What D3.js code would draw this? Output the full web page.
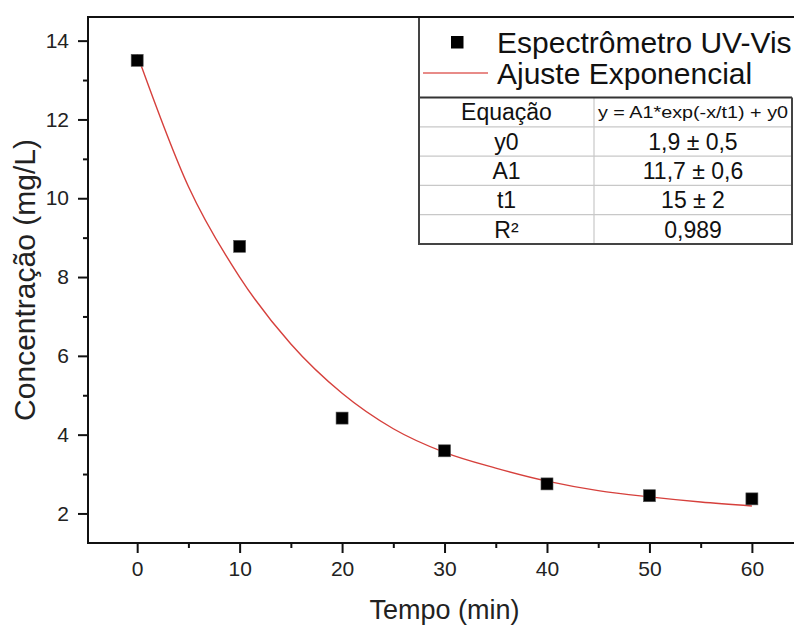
<!DOCTYPE html>
<html>
<head>
<meta charset="utf-8">
<script src="https://cdn.jsdelivr.net/npm/d3@7"></script>
<style>
  body { margin: 0; background: #fff; }
  svg { display: block; font-family: "Liberation Sans", Arial, sans-serif; }
</style>
</head>
<body>
<div id="chart"></div>
<script>
// pontos medidos
const tempo = [0, 10, 20, 30, 40, 50, 60];
const concentracao = [13.5, 8.78, 4.42, 3.59, 2.75, 2.45, 2.37];

// curva de ajuste
const ajusteTempo = [0, 5, 10, 15, 20, 25, 30, 35, 40, 45, 50, 55, 60];
const ajusteValores = [13.65, 10.3, 8.0, 6.3, 5.05, 4.15, 3.55, 3.15, 2.82, 2.58, 2.42, 2.29, 2.19];

const xTicks = [0, 10, 20, 30, 40, 50, 60];
const xMinor = [5, 15, 25, 35, 45, 55];
const yTicks = [2, 4, 6, 8, 10, 12, 14];
const yMinor = [3, 5, 7, 9, 11, 13];

const legendaNomes = ["Espectrômetro UV-Vis", "Ajuste Exponencial"];
const tabelaNomes = ["Equação", "y0", "A1", "t1", "R²"];
const tabelaValores = ["y = A1*exp(-x/t1) + y0", "1,9 ± 0,5", "11,7 ± 0,6", "15 ± 2", "0,989"];

let dimentions = {
    width: 794,
    height: 625,
    margin: { left: 88, right: -4, top: 17, bottom: 82 }
};
dimentions.boundedWidth = dimentions.width - dimentions.margin.left - dimentions.margin.right;
dimentions.boundedHeight = dimentions.height - dimentions.margin.top - dimentions.margin.bottom;

const svg = d3.select("#chart")
    .append("svg")
    .attr("width", dimentions.width)
    .attr("height", dimentions.height);

const bounds = svg.append("g")
    .attr("transform", `translate(${dimentions.margin.left},${dimentions.margin.top})`);

const xScale = d3.scaleLinear()
    .domain([-4.8, 64.5])
    .range([0, dimentions.boundedWidth]);

const yScale = d3.scaleLinear()
    .domain([1.25, 14.6])
    .range([dimentions.boundedHeight, 0]);

// eixos
bounds.append("g")
    .attr("transform", `translate(0,${dimentions.boundedHeight})`)
    .call(d3.axisBottom(xScale).tickValues(xTicks).tickSize(10).tickPadding(8).tickSizeOuter(0));
bounds.append("g")
    .attr("transform", `translate(0,${dimentions.boundedHeight})`)
    .call(d3.axisBottom(xScale).tickValues(xMinor).tickSize(5).tickFormat("").tickSizeOuter(0));

bounds.append("g")
    .call(d3.axisLeft(yScale).tickValues(yTicks).tickSize(10).tickPadding(9).tickSizeOuter(0));
bounds.append("g")
    .call(d3.axisLeft(yScale).tickValues(yMinor).tickSize(5).tickFormat("").tickSizeOuter(0));

bounds.selectAll(".domain").remove();
bounds.selectAll(".tick line").attr("stroke", "#111").attr("stroke-width", 2);
bounds.selectAll(".tick text")
    .attr("font-family", "Liberation Sans, Arial, sans-serif")
    .attr("font-size", 21)
    .attr("fill", "#222");

// moldura
bounds.append("rect")
    .attr("x", 0)
    .attr("y", 0)
    .attr("width", dimentions.boundedWidth)
    .attr("height", dimentions.boundedHeight)
    .attr("fill", "none")
    .attr("stroke", "#111")
    .attr("stroke-width", 2);

// titulos
svg.append("text")
    .attr("x", dimentions.margin.left + xScale(30))
    .attr("y", 619)
    .attr("text-anchor", "middle")
    .attr("font-size", 27)
    .attr("fill", "#222")
    .text("Tempo (min)");

svg.append("text")
    .attr("transform", `translate(35,${dimentions.margin.top + dimentions.boundedHeight / 2}) rotate(-90)`)
    .attr("text-anchor", "middle")
    .attr("font-size", 30)
    .attr("fill", "#222")
    .text("Concentração (mg/L)");

// curva de ajuste
const lineGenerator = d3.line()
    .x((d, i) => xScale(ajusteTempo[i]))
    .y(d => yScale(d))
    .curve(d3.curveMonotoneX);

bounds.append("path")
    .datum(ajusteValores)
    .attr("d", lineGenerator)
    .attr("fill", "none")
    .attr("stroke", "#d6403c")
    .attr("stroke-width", 1.4);

// pontos
const sq = 12;
bounds.selectAll(".ponto")
    .data(concentracao)
    .enter()
    .append("rect")
    .attr("class", "ponto")
    .attr("x", (d, i) => xScale(tempo[i]) - sq / 2)
    .attr("y", d => yScale(d) - sq / 2)
    .attr("width", sq)
    .attr("height", sq)
    .attr("fill", "#000")
    .attr("stroke", "#555")
    .attr("stroke-width", 0.6);

// legenda e tabela
const box = { x: 419, top: 17, right: 792, divider: 97.5, rowH: 29.3, colX: 594 };
const legend = svg.append("g");

legend.append("rect")
    .attr("x", box.x - 6)
    .attr("y", box.top)
    .attr("width", 400)
    .attr("height", box.divider + box.rowH * tabelaNomes.length - box.top + 4)
    .attr("fill", "#fff");

legend.append("rect")
    .attr("x", 451)
    .attr("y", 36)
    .attr("width", 12.5)
    .attr("height", 12.5)
    .attr("fill", "#000");
legend.append("line")
    .attr("x1", 423).attr("x2", 488)
    .attr("y1", 73).attr("y2", 73)
    .attr("stroke", "#e06560")
    .attr("stroke-width", 1.5);

legend.selectAll(".leg-text")
    .data(legendaNomes)
    .enter()
    .append("text")
    .attr("class", "leg-text")
    .attr("x", 497)
    .attr("y", (d, i) => 53 + i * 31)
    .attr("font-size", 30)
    .attr("fill", "#111")
    .text(d => d);

const rowY = i => box.divider + i * box.rowH;

// linhas internas da tabela
legend.selectAll(".row-line")
    .data(tabelaNomes.slice(1))
    .enter()
    .append("line")
    .attr("x1", box.x).attr("x2", box.right)
    .attr("y1", (d, i) => rowY(i + 1)).attr("y2", (d, i) => rowY(i + 1))
    .attr("stroke", "#c8c8c8")
    .attr("stroke-width", 1.2);
legend.append("line")
    .attr("x1", box.colX).attr("x2", box.colX)
    .attr("y1", box.divider).attr("y2", rowY(tabelaNomes.length))
    .attr("stroke", "#c8c8c8")
    .attr("stroke-width", 1.2);

legend.append("line")
    .attr("x1", box.x).attr("x2", box.right)
    .attr("y1", box.divider).attr("y2", box.divider)
    .attr("stroke", "#333")
    .attr("stroke-width", 2);

// borda externa
legend.append("path")
    .attr("d", `M${box.x},${box.top}V${rowY(tabelaNomes.length)}H${box.right}V${box.divider}`)
    .attr("fill", "none")
    .attr("stroke", "#444")
    .attr("stroke-width", 2);

legend.selectAll(".nome")
    .data(tabelaNomes)
    .enter()
    .append("text")
    .attr("class", "nome")
    .attr("x", (box.x + box.colX) / 2)
    .attr("y", (d, i) => rowY(i) + box.rowH / 2)
    .attr("dy", "0.36em")
    .attr("text-anchor", "middle")
    .attr("font-size", 23)
    .attr("fill", "#111")
    .text(d => d);

legend.selectAll(".valor")
    .data(tabelaValores)
    .enter()
    .append("text")
    .attr("class", "valor")
    .attr("x", (box.colX + box.right) / 2)
    .attr("y", (d, i) => rowY(i) + box.rowH / 2)
    .attr("dy", "0.36em")
    .attr("text-anchor", "middle")
    .attr("font-size", (d, i) => i === 0 ? 17 : 23)
    .attr("textLength", (d, i) => i === 0 ? 190 : null)
    .attr("lengthAdjust", "spacingAndGlyphs")
    .attr("fill", "#111")
    .text(d => d);

// linha superior da moldura por cima da legenda
svg.append("line")
    .attr("x1", dimentions.margin.left).attr("x2", dimentions.width)
    .attr("y1", dimentions.margin.top).attr("y2", dimentions.margin.top)
    .attr("stroke", "#111")
    .attr("stroke-width", 2);
</script>
</body>
</html>
